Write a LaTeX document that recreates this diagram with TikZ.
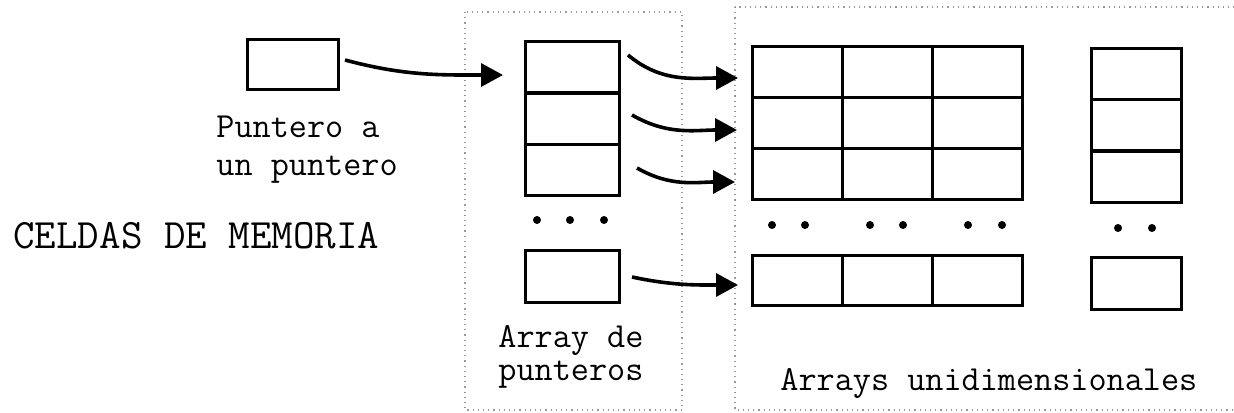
\documentclass[tikz,border=0pt]{standalone}
\usepackage{fontspec}
\usetikzlibrary{arrows.meta}

\tikzset{
  celda/.style={draw, line width=1.5pt, inner sep=0pt, outer sep=0pt,
    minimum width=45pt, minimum height=25.5pt},
  flecha/.style={-{Triangle[length=11pt,width=11.5pt]}, line width=1.8pt},
  marco/.style={gray!80, dotted, line width=0.6pt},
  rotulo/.style={font=\ttfamily\fontsize{17.6}{19}\selectfont, inner sep=0pt, align=left},
}

\begin{document}
\begin{tikzpicture}[x=0.5pt,y=-0.5pt]
  \useasboundingbox (0,0) rectangle (1234,412);

  % Dotted frames
  \draw[marco] (465,12) rectangle (682,410);
  \draw[marco] (735,7) rectangle (1250,410);

  % Pointer to a pointer
  \node[celda, minimum width=45.5pt, minimum height=25pt] (ptr) at (292.5,64) {};
  \node[rotulo, anchor=base west] (ptrtxt) at (216,175) {Puntero a\\un puntero};

  \node[rotulo, font=\ttfamily\fontsize{20.9}{22}\selectfont, anchor=base west] (celdas) at (13,248) {CELDAS DE MEMORIA};

  % Array of pointers
  \node[celda, minimum width=47pt] (p1) at (572,67) {};
  \node[celda, minimum width=47pt] (p2) at (572,118.5) {};
  \node[celda, minimum width=47pt] (p3) at (572,169.5) {};
  \foreach \x in {537,570,604} \fill (\x,220) circle (2pt);
  \node[celda, minimum width=47pt, minimum height=26pt] (pn) at (572,276) {};
  \node[rotulo, font=\ttfamily\fontsize{17.6}{16.5}\selectfont, anchor=base west] (arrtxt) at (498,380) {Array de\\punteros};

  % One-dimensional arrays
  \foreach \j/\x in {1/797,2/887,3/977} {
    \foreach \i/\y in {1/71.5,2/122.5,3/173.5}
      \node[celda] (m-\i-\j) at (\x,\y) {};
    \node[celda, minimum height=25pt] (m-n-\j) at (\x,280) {};
  }
  \foreach \x in {772,805,870,903,968,1002} \fill (\x,225) circle (2pt);

  \foreach \i/\y in {1/73.5,2/125,3/176.5}
    \node[celda] (v-\i) at (1136,\y) {};
  \foreach \x in {1118,1152} \fill (\x,228) circle (2pt);
  \node[celda, minimum height=26pt] (v-n) at (1136,283) {};

  \node[rotulo, anchor=base west] (unitxt) at (780,390) {Arrays unidimensionales};

  % Arrows
  \draw[flecha] ([xshift=3.5pt,yshift=2pt]ptr.east) to[out=-15,in=180] ([xshift=-11pt,yshift=-4pt]p1.west);
  \draw[flecha] ([xshift=4.5pt,yshift=6pt]p1.east) to[out=-40,in=180] ([xshift=-7pt,yshift=-3.25pt]m-1-1.west);
  \draw[flecha] ([xshift=6.5pt,yshift=1.75pt]p2.east) to[out=-30,in=180] ([xshift=-7.5pt,yshift=-3.75pt]m-2-1.west);
  \draw[flecha] ([xshift=9pt,yshift=0.75pt]p3.east) to[out=-30,in=180] ([xshift=-8.5pt,yshift=-4.25pt]m-3-1.west);
  \draw[flecha] ([xshift=6.5pt,yshift=-0.5pt]pn.east) to[out=-12,in=180] ([xshift=-7pt,yshift=-2.5pt]m-n-1.west);
\end{tikzpicture}
\end{document}
